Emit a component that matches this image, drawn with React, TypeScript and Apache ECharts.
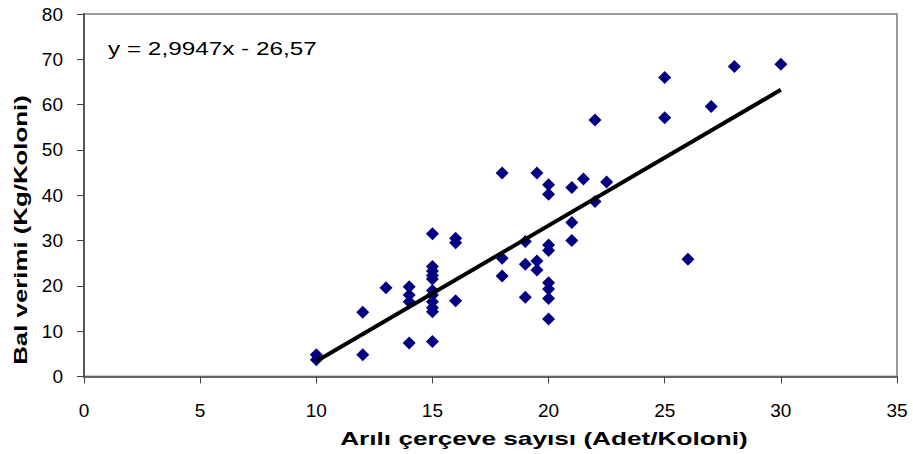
import React, { useEffect, useRef } from "react";
import * as echarts from "echarts";

// Arılı çerçeve sayısı (x) and Bal verimi (y) observations
const xValues: number[] = [
  10, 10,
  12, 12,
  13,
  14, 14, 14, 14,
  15, 15, 15, 15, 15, 15, 15, 15, 15, 15, 15,
  16, 16, 16,
  18, 18, 18,
  19, 19, 19,
  19.5, 19.5, 19.5,
  20, 20, 20, 20, 20, 20, 20, 20,
  21, 21, 21,
  21.5,
  22, 22,
  22.5,
  25, 25,
  26,
  27,
  28,
  30,
];
const yValues: number[] = [
  4.8, 3.7,
  14.2, 4.8,
  19.6,
  19.8, 18.0, 16.5, 7.4,
  31.5, 24.3, 23.3, 22.3, 21.5, 19.0, 18.0, 16.5, 15.2, 14.3, 7.7,
  30.5, 29.5, 16.7,
  44.9, 26.1, 22.2,
  29.8, 24.8, 17.5,
  44.9, 25.5, 23.5,
  42.3, 40.2, 29.0, 27.8, 20.7, 19.3, 17.2, 12.7,
  41.7, 34.0, 30.0,
  43.6,
  56.6, 38.6,
  42.9,
  66.0, 57.1,
  25.9,
  59.6,
  68.4,
  68.9,
];

const slope = 2.9947;
const intercept = -26.57;
const equationText = "y = 2,9947x - 26,57";
const xTitle = "Arılı çerçeve sayısı (Adet/Koloni)";
const yTitle = "Bal verimi (Kg/Koloni)";

export default function App() {
  const ref = useRef<HTMLDivElement>(null);
  useEffect(() => {
    if (!ref.current) return;
    const chart = echarts.init(ref.current, undefined, { renderer: "svg" });
    const points = xValues.map((x, i) => [x, yValues[i]]);
    const xMin = Math.min(...xValues);
    const xMax = Math.max(...xValues);
    const trend = [
      [xMin, slope * xMin + intercept],
      [xMax, slope * xMax + intercept],
    ];
    const font = "Liberation Sans, Arial, sans-serif";
    chart.setOption({
      animation: false,
      backgroundColor: "#fff",
      grid: {
        left: 84,
        right: 16,
        top: 14,
        bottom: 77.5,
        show: true,
        borderColor: "#9a9a9a",
        borderWidth: 2,
        backgroundColor: "transparent",
      },
      xAxis: {
        type: "value",
        min: 0,
        max: 35,
        interval: 5,
        axisLine: { show: true, onZero: false, lineStyle: { color: "#666", width: 2 } },
        axisTick: { show: true, length: 7, lineStyle: { color: "#444", width: 1 } },
        axisLabel: { fontFamily: font, fontSize: 19, color: "#000", margin: 24 },
        splitLine: { show: false },
      },
      yAxis: {
        type: "value",
        min: 0,
        max: 80,
        interval: 10,
        axisLine: { show: true, onZero: false, lineStyle: { color: "#555", width: 2 } },
        axisTick: { show: true, length: 7, lineStyle: { color: "#444", width: 1 } },
        axisLabel: { fontFamily: font, fontSize: 19, color: "#000", margin: 21 },
        splitLine: { show: false },
      },
      graphic: [
        {
          type: "text",
          x: 108,
          y: 48,
          scaleX: 1.28,
          style: {
            text: equationText,
            font: `19px ${font}`,
            fill: "#000",
            align: "left",
            verticalAlign: "middle",
          },
        },
        {
          type: "text",
          x: 544,
          y: 438,
          scaleX: 1.38,
          style: {
            text: xTitle,
            font: `bold 19px ${font}`,
            fill: "#000",
            align: "center",
            verticalAlign: "middle",
          },
        },
        {
          type: "text",
          x: 20,
          y: 230,
          rotation: Math.PI / 2,
          scaleX: 1.36,
          style: {
            text: yTitle,
            font: `bold 19px ${font}`,
            fill: "#000",
            align: "center",
            verticalAlign: "middle",
          },
        },
      ],
      series: [
        {
          type: "scatter",
          data: points,
          symbol: "diamond",
          symbolSize: 13,
          itemStyle: { color: "#000080", opacity: 1 },
          z: 2,
        },
        {
          type: "line",
          data: trend,
          showSymbol: false,
          symbol: "none",
          lineStyle: { color: "#000", width: 4 },
          z: 3,
        },
      ],
    });
    return () => chart.dispose();
  }, []);
  return (
    <div
      ref={ref}
      style={{ position: "fixed", left: 0, top: 0, width: 913, height: 454 }}
    />
  );
}
